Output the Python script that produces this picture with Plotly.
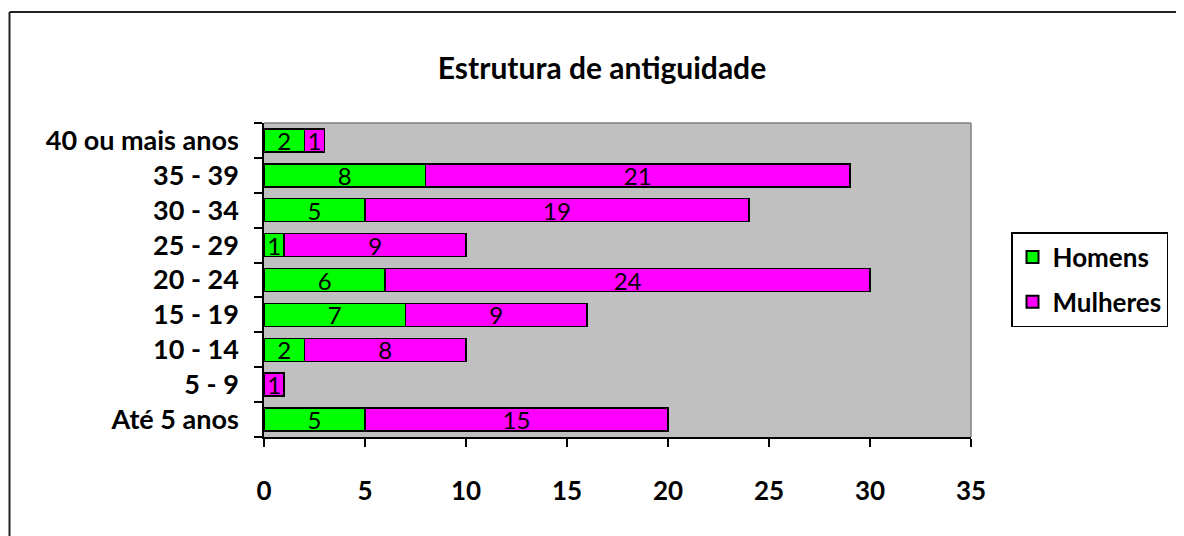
import plotly.graph_objects as go

# data
faixas = ["Até 5 anos", "5 - 9", "10 - 14", "15 - 19", "20 - 24",
          "25 - 29", "30 - 34", "35 - 39", "40 ou mais anos"]
homens = [5, 0, 2, 7, 6, 1, 5, 8, 2]
mulheres = [15, 1, 8, 9, 24, 9, 19, 21, 1]
x_ticks = [0, 5, 10, 15, 20, 25, 30, 35]

# page body has an 8px margin, so the figure is drawn 8px in
OFF = 8
W, H = 1184 - OFF, 536 - OFF
L, R, T, B = 264 - OFF, 971 - OFF, 123 - OFF, 437 - OFF


def px_x(p):
    return (p - OFF - L) / (R - L)


def px_y(p):
    return (B - (p - OFF)) / (B - T)


FONT = "Lato, Noto Sans, sans-serif"

fig = go.Figure()
fig.add_trace(go.Bar(
    y=faixas, x=homens, name="Homens", orientation="h", legendgroup="h",
    marker=dict(color="#00FF00", line=dict(color="black", width=1.5)),
    text=[str(v) if v else "" for v in homens],
    textposition="inside", insidetextanchor="middle", constraintext="none",
    textangle=0,
    textfont=dict(family=FONT, size=24, color="black"),
))
fig.add_trace(go.Bar(
    y=faixas, x=mulheres, name="Mulheres", orientation="h", legendgroup="m",
    marker=dict(color="#FF00FF", line=dict(color="black", width=1.5)),
    text=[str(v) if v else "" for v in mulheres],
    textposition="inside", insidetextanchor="middle", constraintext="none",
    textangle=0,
    textfont=dict(family=FONT, size=24, color="black"),
))

fig.update_layout(
    barmode="stack",
    bargap=0.34,
    width=W, height=H,
    margin=dict(l=L, r=W - R, t=T, b=H - B, pad=0),
    paper_bgcolor="white",
    plot_bgcolor="#C0C0C0",
    font=dict(family=FONT, size=26, color="black"),
    title=dict(text="<b>Estrutura de antiguidade</b>",
               font=dict(family=FONT, size=30, color="black"),
               x=(602 - OFF) / W, xref="container", xanchor="center",
               y=1 - (68 - OFF) / H, yref="container", yanchor="middle"),
    legend=dict(
        x=px_x(1011), y=px_y(232), xanchor="left", yanchor="top",
        bgcolor="white", bordercolor="black", borderwidth=1.5,
        font=dict(family=FONT, size=26, color="black", weight="bold"),
        traceorder="grouped", tracegroupgap=8, itemsizing="constant",
    ),
    xaxis=dict(
        range=[0, 35], tickvals=x_ticks, ticks="outside", ticklen=8,
        tickcolor="black", tickwidth=1.5, showgrid=False, zeroline=False,
        showline=True, linecolor="black", linewidth=1.5,
        tickfont=dict(family=FONT, size=26, color="black", weight="bold"),
        ticklabelstandoff=22,
    ),
    yaxis=dict(
        categoryorder="array", categoryarray=faixas,
        ticks="outside", tickson="boundaries", ticklen=8,
        tickcolor="black", tickwidth=1.5, showgrid=False, zeroline=False,
        showline=True, linecolor="black", linewidth=1.5,
        tickfont=dict(family=FONT, size=27, color="black", weight="bold"),
        ticklabelstandoff=18,
    ),
    shapes=[
        # plot area outline (top and right in gray)
        dict(type="line", xref="paper", yref="paper", x0=0, x1=1, y0=1, y1=1,
             line=dict(color="#808080", width=1.5)),
        dict(type="line", xref="paper", yref="paper", x0=1, x1=1, y0=0, y1=1,
             line=dict(color="#808080", width=1.5)),
        # outer chart border
        dict(type="line", xref="paper", yref="paper",
             x0=px_x(9.5), x1=px_x(1190), y0=px_y(12), y1=px_y(12),
             line=dict(color="#222222", width=2)),
        dict(type="line", xref="paper", yref="paper",
             x0=px_x(9.5), x1=px_x(9.5), y0=px_y(12), y1=px_y(545),
             line=dict(color="#222222", width=2)),
    ],
)

fig.write_html("out.html")
